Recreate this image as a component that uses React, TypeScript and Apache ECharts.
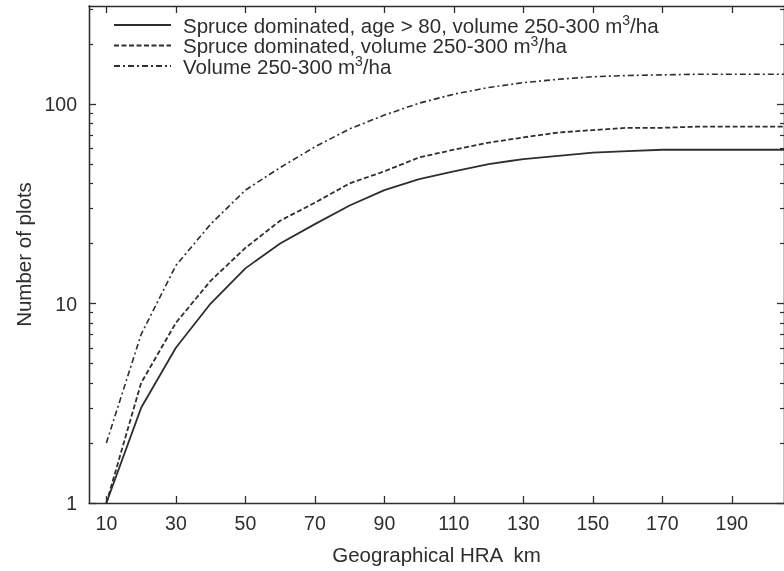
import React, { useEffect, useRef } from 'react';
import * as echarts from 'echarts';

const distances = [10, 20, 30, 40, 50, 60, 70, 80, 90, 100, 110, 120, 130, 140, 150, 160, 170, 180, 190, 200, 210];
const spruceAge80 = [1, 3, 6, 10, 15, 20, 25, 31, 37, 42, 46, 50, 53, 55, 57, 58, 59, 59, 59, 59, 59];
const spruceVolume = [1, 4, 8, 13, 19, 26, 32, 40, 46, 54, 59, 64, 68, 72, 74, 76, 76, 77, 77, 77, 77];
const volumeOnly = [2, 7, 15.5, 25, 37, 48, 61, 75, 88, 101, 112, 121, 128, 133, 137, 139, 140, 141, 141, 141, 141];

const xTicks = [10, 30, 50, 70, 90, 110, 130, 150, 170, 190];
const yMajorTicks = [1, 10, 100];
const yMinorTicks = [2, 3, 4, 5, 6, 7, 8, 9, 20, 30, 40, 50, 60, 70, 80, 90, 200, 300];

const seriesNames = [
  'Spruce dominated, age > 80, volume 250-300 m³/ha',
  'Spruce dominated, volume 250-300 m³/ha',
  'Volume 250-300 m³/ha',
];

const FONT = '"Liberation Sans", Arial, Helvetica, sans-serif';
const INK = '#2e2e2e';

export default function App() {
  const ref = useRef<HTMLDivElement>(null);
  useEffect(() => {
    if (!ref.current) return;
    const chart = echarts.init(ref.current, null, { renderer: 'svg' });
    const axisLine = { show: true, lineStyle: { color: INK, width: 1.3 } };
    const yBase = { type: 'log' as const, logBase: 10, min: 1, max: 310, splitLine: { show: false }, axisLine };
    const xBase = { type: 'value' as const, min: 5, max: 205, splitLine: { show: false }, axisLine };
    const mk = (vals: number[]) => distances.map((d, i) => [d, vals[i]]);
    chart.setOption({
      animation: false,
      textStyle: { fontFamily: FONT },
      grid: { left: 89, right: -4, top: 6, bottom: 68, containLabel: false },
      legend: {
        orient: 'vertical',
        left: 113,
        top: 13,
        padding: 0,
        itemWidth: 57,
        itemHeight: 14,
        itemGap: -2,
        selectedMode: false,
        itemStyle: { opacity: 0 },
        data: seriesNames,
        formatter: (name: string) => name.replace('³', '{sup|3}'),
        textStyle: {
          fontSize: 20.5,
          fontFamily: FONT,
          color: INK,
          lineHeight: 20,
          padding: [0, 0, 0, 7],
          rich: {
            sup: { fontSize: 14, fontFamily: FONT, color: INK, verticalAlign: 'bottom', lineHeight: 12, padding: [0, 0, 8, 0] },
          },
        },
      },
      xAxis: [
        {
          ...xBase,
          position: 'bottom',
          name: 'Geographical HRA  km',
          nameLocation: 'middle',
          nameGap: 41,
          nameTextStyle: { fontSize: 20.5, color: INK, fontFamily: FONT },
          axisTick: { show: true, inside: true, length: 7, customValues: xTicks, lineStyle: { color: INK, width: 1.3 } },
          axisLabel: { customValues: xTicks, fontSize: 19.5, color: INK, margin: 10, fontFamily: FONT },
        },
        {
          ...xBase,
          position: 'top',
          axisTick: { show: true, inside: true, length: 7, customValues: xTicks, lineStyle: { color: INK, width: 1.3 } },
          axisLabel: { show: false },
        },
      ],
      yAxis: [
        {
          ...yBase,
          position: 'left',
          name: 'Number of plots',
          nameLocation: 'middle',
          nameGap: 55,
          nameRotate: 90,
          nameTextStyle: { fontSize: 20.5, color: INK, fontFamily: FONT },
          axisTick: { show: true, inside: true, length: 7, customValues: yMajorTicks, lineStyle: { color: INK, width: 1.3 } },
          axisLabel: { customValues: yMajorTicks, fontSize: 19.5, color: INK, margin: 12, fontFamily: FONT },
        },
        {
          ...yBase,
          position: 'left',
          axisTick: { show: true, inside: true, length: 4, customValues: yMinorTicks, lineStyle: { color: INK, width: 1.2 } },
          axisLabel: { show: false },
        },
        {
          ...yBase,
          position: 'right',
          axisTick: { show: true, inside: true, length: 7, customValues: yMajorTicks, lineStyle: { color: INK, width: 1.3 } },
          axisLabel: { show: false },
        },
        {
          ...yBase,
          position: 'right',
          axisTick: { show: true, inside: true, length: 4, customValues: yMinorTicks, lineStyle: { color: INK, width: 1.2 } },
          axisLabel: { show: false },
        },
      ],
      series: [
        {
          name: seriesNames[0],
          type: 'line',
          data: mk(spruceAge80),
          symbol: 'none',
          clip: true,
          lineStyle: { color: INK, width: 1.8, type: 'solid' },
          itemStyle: { color: INK },
        },
        {
          name: seriesNames[1],
          type: 'line',
          data: mk(spruceVolume),
          symbol: 'none',
          clip: true,
          lineStyle: { color: INK, width: 1.8, type: [5, 2.5] },
          itemStyle: { color: INK },
        },
        {
          name: seriesNames[2],
          type: 'line',
          data: mk(volumeOnly),
          symbol: 'none',
          clip: true,
          lineStyle: { color: INK, width: 1.6, type: [6, 3, 2, 3] },
          itemStyle: { color: INK },
        },
      ],
    });
    return () => chart.dispose();
  }, []);
  return <div ref={ref} style={{ width: 784, height: 571, position: 'fixed', left: 0, top: 0 }} />;
}
